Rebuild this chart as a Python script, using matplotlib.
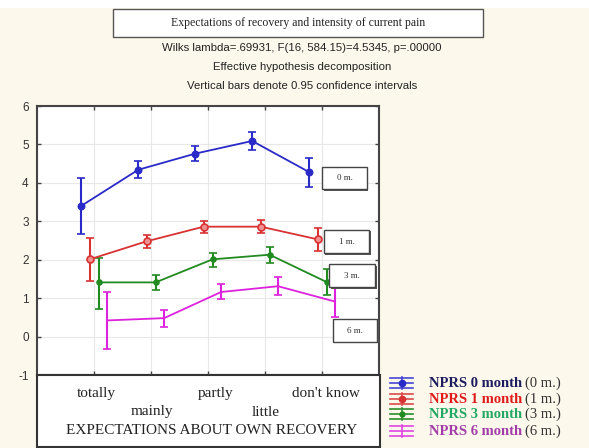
import matplotlib
matplotlib.use("Agg")
import matplotlib.pyplot as plt
from matplotlib.patches import Rectangle
from matplotlib.lines import Line2D
import matplotlib.transforms as mtransforms

# ---------------- data ----------------
categories = ["totally", "mainly", "partly", "little", "don't know"]
yticks = [-1, 0, 1, 2, 3, 4, 5, 6]

mean_0m = [3.40, 4.34, 4.76, 5.09, 4.28]
low_0m = [2.66, 4.12, 4.56, 4.85, 3.88]
high_0m = [4.13, 4.56, 4.96, 5.33, 4.64]

mean_1m = [2.01, 2.48, 2.86, 2.86, 2.53]
low_1m = [1.45, 2.31, 2.70, 2.69, 2.23]
high_1m = [2.56, 2.64, 3.01, 3.03, 2.82]

mean_3m = [1.41, 1.41, 2.01, 2.13, 1.42]
low_3m = [0.73, 1.21, 1.82, 1.91, 1.09]
high_3m = [2.05, 1.61, 2.18, 2.34, 1.75]

mean_6m = [0.42, 0.48, 1.16, 1.31, 0.91]
low_6m = [-0.33, 0.26, 0.97, 1.08, 0.52]
high_6m = [1.15, 0.69, 1.37, 1.56, 1.30]

series_names = ["NPRS 0 month", "NPRS 1 month", "NPRS 3 month", "NPRS 6 month"]
series_short = ["(0 m.)", "(1 m.)", "(3 m.)", "(6 m.)"]
box_labels = ["0 m.", "1 m.", "3 m.", "6 m."]

title = "Expectations of recovery and intensity of current pain"
subtitle_lines = ["Wilks lambda=.69931, F(16, 584.15)=4.5345, p=.00000",
                  "Effective hypothesis decomposition",
                  "Vertical bars denote 0.95 confidence intervals"]
xlabel = "EXPECTATIONS ABOUT OWN RECOVERY"

# ---------------- style ----------------
W, H = 589, 448
BG = "#fcf8ec"
SERIF = ["Liberation Serif", "DejaVu Serif"]
SANS = ["Liberation Sans", "DejaVu Sans"]

line_colors = ["#2a2ac8", "#d83232", "#218a21", "#dd22dd"]
legend_sym_colors = ["#4646d4", "#d84a4a", "#2c8c2c", "#e046e0"]
legend_text_colors = ["#1c1c5e", "#e01a1a", "#22a862", "#a23ca8"]
markers = ["o", "o", "o", None]
marker_faces = ["#2a2ac8", "#f09090", "#218a21", "none"]
marker_sizes = [4.5, 5, 3.5, 0]
offsets = [-0.225, -0.075, 0.08, 0.23]
label_px_shift = [2, 1, 8, 1, 4]

fig = plt.figure(figsize=(W / 100, H / 100), dpi=100, facecolor=BG)


def fx(x):
    return x / W


def fy(y):
    return 1 - y / H


# white strip at very top
fig.patches.append(Rectangle((0, fy(8)), 1, 1 - fy(8), transform=fig.transFigure,
                             facecolor="white", edgecolor="none", zorder=0))

ax = fig.add_axes([fx(37), fy(375), fx(379) - fx(37), fy(106) - fy(375)])
ax.set_facecolor("white")
ax.set_xlim(0, 6)
ax.set_ylim(-1, 6)
ax.set_xticks(range(1, len(categories) + 1))
ax.set_xticklabels([])
ax.set_yticks(yticks)
ax.set_yticklabels([str(v) for v in yticks], fontfamily=SANS, fontsize=8.5, color="#333333")
ax.tick_params(direction="in", length=3, width=1, color="#444444",
               top=True, right=True, pad=6)
for s in ax.spines.values():
    s.set_color("#444444")
    s.set_linewidth(1.5)
ax.grid(True, color="#e8e8e8", lw=0.8, zorder=0)
ax.set_axisbelow(True)

means = [mean_0m, mean_1m, mean_3m, mean_6m]
lows = [low_0m, low_1m, low_3m, low_6m]
highs = [high_0m, high_1m, high_3m, high_6m]

for i in range(4):
    xs = [k + 1 + offsets[i] for k in range(len(categories))]
    m = means[i]
    yerr = [[mm - ll for mm, ll in zip(m, lows[i])],
            [hh - mm for mm, hh in zip(m, highs[i])]]
    ax.errorbar(xs, m, yerr=yerr, color=line_colors[i], lw=1.3,
                elinewidth=1.5, capsize=3, capthick=1.3,
                marker=markers[i] if markers[i] else "", ms=marker_sizes[i],
                mfc=marker_faces[i], mec=line_colors[i], mew=1.2, zorder=3)

# label boxes near line ends
boxes = [(322, 167, 367, 189), (324, 230, 369, 253), (329, 264, 375, 287), (333, 319, 377, 342)]
for lab, (x0, y0, x1, y1) in zip(box_labels, boxes):
    fig.patches.append(Rectangle((fx(x0) + 1.5 / W, fy(y1) - 1.5 / H), fx(x1) - fx(x0), fy(y0) - fy(y1),
                                 transform=fig.transFigure, facecolor="#555555",
                                 edgecolor="none", zorder=4))
    fig.patches.append(Rectangle((fx(x0), fy(y1)), fx(x1) - fx(x0), fy(y0) - fy(y1),
                                 transform=fig.transFigure, facecolor="white",
                                 edgecolor="#444444", lw=1.0, zorder=5))
    fig.text(fx((x0 + x1) / 2), fy((y0 + y1) / 2), lab, ha="center", va="center",
             fontfamily=SERIF, fontsize=6.5, color="#333333", zorder=6)

# title box
fig.patches.append(Rectangle((fx(113), fy(37)), fx(483) - fx(113), fy(9) - fy(37),
                             transform=fig.transFigure, facecolor="white",
                             edgecolor="#555555", lw=1.0, zorder=2))
fig.text(fx(298), fy(23), title, ha="center", va="center",
         fontfamily=SERIF, fontsize=8.5, color="#222222", zorder=3)
for txt, yy in zip(subtitle_lines, [48, 67, 86]):
    fig.text(fx(302), fy(yy), txt, ha="center", va="center",
             fontfamily=SANS, fontsize=8.2, color="#222222")

# lower category box
fig.patches.append(Rectangle((fx(37), fy(447)), fx(380) - fx(37), fy(375) - fy(447),
                             transform=fig.transFigure, facecolor="white",
                             edgecolor="#333333", lw=1.5, zorder=2))
trans = mtransforms.blended_transform_factory(ax.transData, fig.transFigure)
for k, c in enumerate(categories):
    yy = 393 if k % 2 == 0 else 412
    t = fig.text(k + 1, fy(yy), c, transform=trans + mtransforms.Affine2D().translate(label_px_shift[k], 0),
                 ha="center", va="center",
                 fontfamily=SERIF, fontsize=11, color="#222222", zorder=5)
fig.text(fx(212), fy(430), xlabel, ha="center", va="center",
         fontfamily=SERIF, fontsize=11, color="#222222", zorder=5)

# legend (manual)
rows = [383, 399, 414, 431]
lx0, lx1 = 390, 413
for i, ry in enumerate(rows):
    c = legend_sym_colors[i]
    for dy in (-5, 0, 5):
        fig.add_artist(Line2D([fx(lx0), fx(lx1)], [fy(ry + dy), fy(ry + dy)],
                              transform=fig.transFigure, color=c, lw=1.2))
    fig.add_artist(Line2D([fx((lx0 + lx1) / 2)] * 2, [fy(ry - 6), fy(ry + 6)],
                          transform=fig.transFigure, color=c, lw=1.2))
    if markers[i]:
        fig.add_artist(Line2D([fx((lx0 + lx1) / 2)], [fy(ry)], transform=fig.transFigure,
                              marker="o", ms=4.5 if i < 2 else 3.5, color=line_colors[i],
                              mfc=line_colors[i], lw=0))

legend_texts = []
for i, ry in enumerate(rows):
    t = fig.text(fx(429), fy(ry), series_names[i], ha="left", va="center",
                 fontfamily=SERIF, fontsize=10.5, fontweight="bold",
                 color=legend_text_colors[i])
    legend_texts.append(t)

fig.canvas.draw()
renderer = fig.canvas.get_renderer()
for i, (t, ry) in enumerate(zip(legend_texts, rows)):
    bb = t.get_window_extent(renderer=renderer)
    fig.text(bb.x1 / W + 3 / W, fy(ry), series_short[i], ha="left", va="center",
             fontfamily=SERIF, fontsize=10.5, color="#333333")

fig.savefig("out.png", dpi=100, facecolor=BG)
